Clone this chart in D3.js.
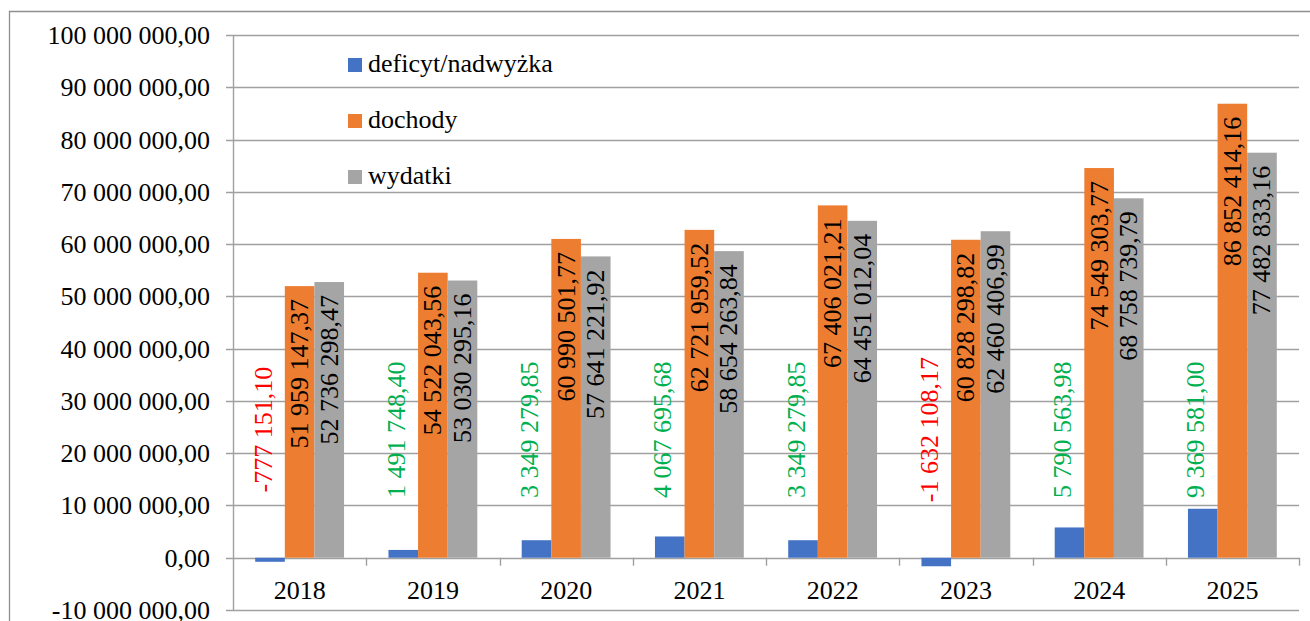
<!DOCTYPE html>
<html>
<head>
<meta charset="utf-8">
<script src="https://cdn.jsdelivr.net/npm/d3@7"></script>
<style>
  body { margin: 0; background: #fff; }
  svg { display: block; }
  svg text { font-family: 'Liberation Serif', 'Times New Roman', 'DejaVu Serif', serif; }
</style>
</head>
<body>
<svg id="chart"></svg>
<script>
const years = ['2018', '2019', '2020', '2021', '2022', '2023', '2024', '2025'];
const seriesNames = ['deficyt/nadwyżka', 'dochody', 'wydatki'];
const deficyt = [-777151.10, 1491748.40, 3349279.85, 4067695.68, 3349279.85, -1632108.17, 5790563.98, 9369581.00];
const dochody = [51959147.37, 54522043.56, 60990501.77, 62721959.52, 67406021.21, 60828298.82, 74549303.77, 86852414.16];
const wydatki = [52736298.47, 53030295.16, 57641221.92, 58654263.84, 64451012.04, 62460406.99, 68758739.79, 77482833.16];
const yTicks = [-10000000, 0, 10000000, 20000000, 30000000, 40000000, 50000000, 60000000, 70000000, 80000000, 90000000, 100000000];

const colors = ['#4472C4', '#ED7D31', '#A5A5A5'];
const w = 1310, h = 621;
const plotLeft = 233, plotRight = 1299, plotTop = 35, plotBottom = 610;
const fontFamily = "'Liberation Serif', 'Times New Roman', 'DejaVu Serif', serif";

const pl = d3.formatLocale({ decimal: ',', thousands: ' ', grouping: [3], currency: ['', ''], minus: '-' });
const fmt = pl.format(',.2f');

const svg = d3.select('#chart').attr('width', w).attr('height', h)
  .attr('font-family', fontFamily);

// outer frame
svg.append('path')
  .attr('d', `M9.5,${h} V11.5 H${w}`)
  .attr('fill', 'none')
  .attr('stroke', '#8f8f8f')
  .attr('stroke-width', 1.3);

const y = d3.scaleLinear().domain([-10000000, 100000000]).range([plotBottom, plotTop]);
const x0 = d3.scaleBand().domain(years).range([plotLeft, plotRight]).padding(0);
const x1 = d3.scaleBand().domain(seriesNames).range([0, x0.bandwidth()]).paddingInner(0).paddingOuter(0.75);

// gridlines
svg.append('g')
  .selectAll('line')
  .data(yTicks)
  .join('line')
  .attr('x1', plotLeft - 7).attr('x2', plotRight)
  .attr('y1', d => Math.round(y(d)) + 0.5).attr('y2', d => Math.round(y(d)) + 0.5)
  .attr('stroke', '#a0a0a0')
  .attr('stroke-width', 1.4);

// y axis line
svg.append('line')
  .attr('x1', plotLeft + 0.5).attr('x2', plotLeft + 0.5)
  .attr('y1', plotTop).attr('y2', plotBottom + 1)
  .attr('stroke', '#a0a0a0').attr('stroke-width', 1.4);

// y tick labels
svg.append('g')
  .selectAll('text')
  .data(yTicks)
  .join('text')
  .attr('x', 210)
  .attr('y', d => y(d) + 9)
  .attr('text-anchor', 'end')
  .attr('font-size', 26)
  .attr('fill', '#000')
  .text(d => fmt(d));

// category tick marks on zero line
const bounds = years.map(d => x0(d)).concat([plotRight]);
svg.append('g')
  .selectAll('line')
  .data(bounds.slice(1))
  .join('line')
  .attr('x1', d => Math.round(d) + 0.5).attr('x2', d => Math.round(d) + 0.5)
  .attr('y1', y(0)).attr('y2', y(0) + 8)
  .attr('stroke', '#a0a0a0').attr('stroke-width', 1.4);

// bars
const rows = years.map((yr, i) => ({ year: yr, vals: [deficyt[i], dochody[i], wydatki[i]] }));

const groups = svg.append('g')
  .selectAll('g')
  .data(rows)
  .join('g')
  .attr('transform', d => `translate(${x0(d.year)},0)`);

groups.selectAll('rect')
  .data(d => d.vals.map((v, j) => ({ key: seriesNames[j], v, j })))
  .join('rect')
  .attr('x', d => x1(d.key))
  .attr('width', x1.bandwidth())
  .attr('y', d => y(Math.max(0, d.v)))
  .attr('height', d => Math.abs(y(d.v) - y(0)))
  .attr('fill', d => colors[d.j]);

// value labels inside orange and gray bars
groups.selectAll('text.val')
  .data(d => d.vals.slice(1).map((v, j) => ({ key: seriesNames[j + 1], v })))
  .join('text')
  .attr('class', 'val')
  .attr('transform', d => `translate(${x1(d.key) + x1.bandwidth() / 2},${y(d.v) + 13}) rotate(-90)`)
  .attr('text-anchor', 'end')
  .attr('dominant-baseline', 'central')
  .attr('font-size', 26)
  .attr('fill', '#000')
  .text(d => fmt(d.v));

// deficit / surplus labels
groups.append('text')
  .attr('transform', d => `translate(${x1(seriesNames[0]) + x1.bandwidth() / 2 - 7},${y(24500000)}) rotate(-90)`)
  .attr('text-anchor', 'middle')
  .attr('dominant-baseline', 'central')
  .attr('font-size', 26)
  .attr('fill', d => d.vals[0] < 0 ? '#FF0000' : '#00B050')
  .text(d => fmt(d.vals[0]));

// category labels
svg.append('g')
  .selectAll('text')
  .data(years)
  .join('text')
  .attr('x', d => x0(d) + x0.bandwidth() / 2)
  .attr('y', 599)
  .attr('text-anchor', 'middle')
  .attr('font-size', 26)
  .attr('fill', '#000')
  .text(d => d);

// legend
const legend = svg.append('g')
  .selectAll('g')
  .data(seriesNames)
  .join('g')
  .attr('transform', (d, i) => `translate(348,${58 + i * 56})`);

legend.append('rect')
  .attr('width', 14).attr('height', 14)
  .attr('fill', (d, i) => colors[i]);

legend.append('text')
  .attr('x', 20)
  .attr('y', 14)
  .attr('font-size', 26)
  .attr('fill', '#000')
  .text(d => d);
</script>
</body>
</html>
